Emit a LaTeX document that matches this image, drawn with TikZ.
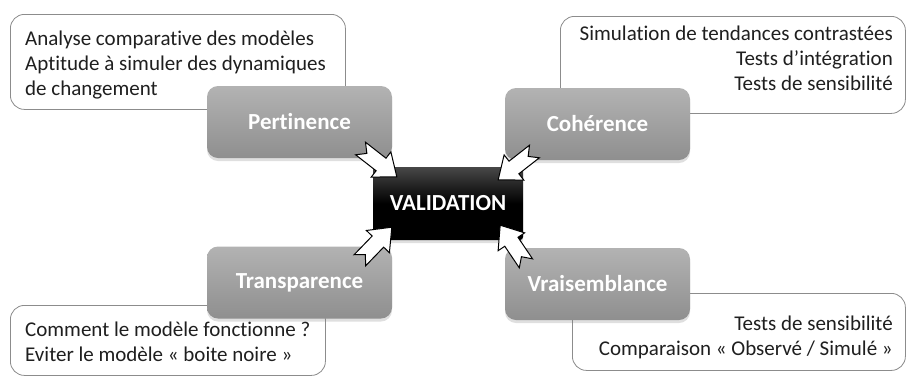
\documentclass[tikz,border=0pt]{standalone}
\usepackage{fontspec}
\setmainfont{Carlito}[RawFeature={-liga;-clig;-calt}]
\usetikzlibrary{shadows,calc}
\begin{document}
\begin{tikzpicture}[x=1pt,y=-1pt,
  note/.style={draw=black!45, line width=0.8pt, rounded corners=14pt, fill=white, inner sep=0pt},
  notetext/.style={font=\fontsize{21}{25}\selectfont, inner sep=0pt, text=black!88},
  cat/.style={rounded corners=11pt, top color=black!30, bottom color=black!44,
    drop shadow={opacity=0.25, shadow xshift=0pt, shadow yshift=-3pt},
    minimum width=185pt, minimum height=72pt, inner sep=0pt,
    font=\bfseries\fontsize{23}{27}\selectfont, text=white},
  valbox/.style={rounded corners=3pt, top color=black!72, bottom color=black, middle color=black,
    drop shadow={opacity=0.25, shadow xshift=0pt, shadow yshift=-3pt},
    minimum width=150pt, minimum height=73pt, inner sep=0pt,
    font=\bfseries\fontsize{23}{27}\selectfont, text=white},
  barrow/.style={draw=black, fill=white, line width=1pt, line join=miter},
  blockarrow/.pic={\draw[barrow] (0,0) -- (-20,-16) -- (-20,-8) -- (-46,-8) -- (-38,0) -- (-46,8) -- (-20,8) -- (-20,16) -- cycle;}
]
\useasboundingbox (0,0) rectangle (906,376);
\fill[white] (0,0) rectangle (906,376);

% note boxes
\node[note, minimum width=335pt, minimum height=95pt, anchor=north west] (n1) at (10,14) {};
\node[note, minimum width=345pt, minimum height=97pt, anchor=north west] (n2) at (560,16) {};
\node[note, minimum width=315pt, minimum height=70pt, anchor=north west] (n3) at (10,305) {};
\node[note, minimum width=333pt, minimum height=77pt, anchor=north west] (n4) at (572,293) {};

\node[notetext, align=left, anchor=north west] (t1) at (25,31)
  {Analyse comparative des modèles\\Aptitude à simuler des dynamiques\\de changement};
\node[notetext, align=right, anchor=north east] (t2) at (893,26)
  {Simulation de tendances contrastées\\Tests d’intégration\\Tests de sensibilité};
\node[notetext, align=left, anchor=north west] (t3) at (25,322)
  {Comment le modèle fonctionne ?\\Eviter le modèle « boite noire »};
\node[notetext, align=right, anchor=north east] (t4) at (893,316)
  {Tests de sensibilité\\Comparaison « Observé / Simulé »};

% category boxes
\node[cat] (pert) at (299.5,122) {Pertinence};
\node[cat] (coh) at (597.5,124) {Cohérence};
\node[cat] (trans) at (299.5,282.5) {Transparence};
\node[cat] (vrai) at (597.5,284) {Vraisemblance};

% central box
\node[valbox] (val) at (448,203.5) {VALIDATION};

% arrows
\pic[rotate=-38] at ($(val.north west)+(24,10)$) {blockarrow};
\pic[rotate=-142] at ($(val.north east)+(-25,13)$) {blockarrow};
\pic[rotate=46] at ($(val.south west)+(19,-13)$) {blockarrow};
\pic[rotate=124] at ($(val.south east)+(-23,-15)$) {blockarrow};
\end{tikzpicture}
\end{document}
